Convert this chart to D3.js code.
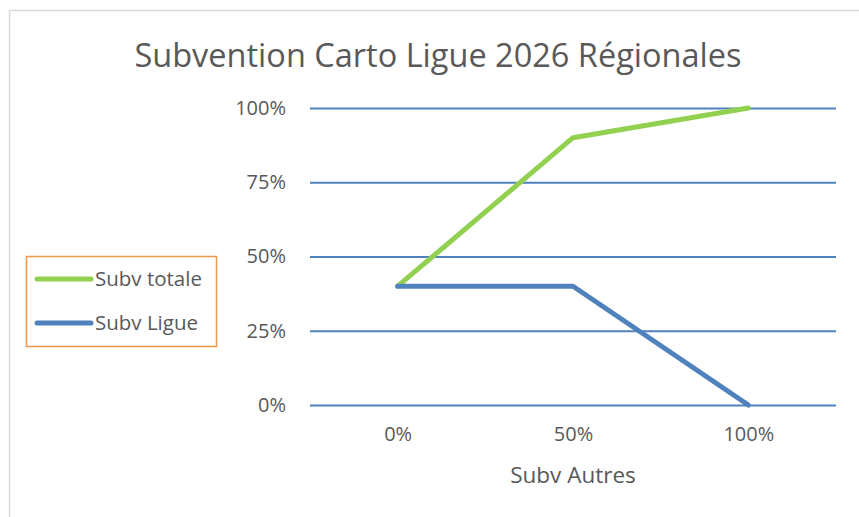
<!DOCTYPE html>
<html>
<head>
<meta charset="utf-8">
<script src="https://cdn.jsdelivr.net/npm/d3@7"></script>
<style>
  body { margin: 0; background: #fff; }
  svg { display: block; font-family: "Open Sans", "Noto Sans", sans-serif; }
</style>
</head>
<body>
<div id="chart"></div>
<script>
// data
const categories = ["0%", "50%", "100%"];
const subvTotale = [0.40, 0.90, 1.00];
const subvLigue = [0.40, 0.40, 0.00];
const yTicks = [0, 0.25, 0.5, 0.75, 1];

const series = [
  { name: "Subv totale", values: subvTotale, color: "#92D050" },
  { name: "Subv Ligue", values: subvLigue, color: "#4F81BD" }
];

const width = 859, height = 517;
const plot = { left: 310, right: 836, top: 108, bottom: 405 };

const svg = d3.select("#chart").append("svg")
  .attr("width", width)
  .attr("height", height);

// chart frame (only top and left edges show)
svg.append("path")
  .attr("d", `M9.5,${height} V10.5 H${width}`)
  .attr("fill", "none")
  .attr("stroke", "#d9d9d9")
  .attr("stroke-width", 1.5);

const x = d3.scalePoint()
  .domain(categories)
  .range([plot.left, plot.right])
  .padding(0.5);

const y = d3.scaleLinear()
  .domain([0, 1])
  .range([plot.bottom, plot.top]);

// title
svg.append("text")
  .attr("x", 438)
  .attr("y", 67)
  .attr("text-anchor", "middle")
  .attr("fill", "#595959")
  .attr("font-size", 32.5)
  .text("Subvention Carto Ligue 2026 Régionales");

// gridlines + y labels
const yAxis = svg.append("g")
  .attr("transform", `translate(${plot.left},0)`)
  .call(d3.axisLeft(y)
    .tickValues(yTicks)
    .tickFormat(d3.format(".0%"))
    .tickSize(-(plot.right - plot.left))
    .tickPadding(24));
yAxis.select(".domain").remove();
yAxis.selectAll(".tick line")
  .attr("stroke", "#4F81BD")
  .attr("stroke-width", 2);
yAxis.selectAll(".tick text")
  .attr("fill", "#595959")
  .attr("font-size", 20)
  .attr("font-family", "Open Sans, sans-serif");

// x labels
const xAxis = svg.append("g")
  .attr("transform", `translate(0,${plot.bottom})`)
  .call(d3.axisBottom(x).tickSize(0).tickPadding(22));
xAxis.select(".domain").remove();
xAxis.selectAll(".tick text")
  .attr("fill", "#595959")
  .attr("font-size", 20)
  .attr("font-family", "Open Sans, sans-serif");

// x axis title
svg.append("text")
  .attr("x", x("50%"))
  .attr("y", 483)
  .attr("text-anchor", "middle")
  .attr("fill", "#595959")
  .attr("font-size", 22.5)
  .text("Subv Autres");

// lines
const line = d3.line()
  .x((d, i) => x(categories[i]))
  .y(d => y(d));

svg.selectAll(".series")
  .data(series)
  .join("path")
  .attr("class", "series")
  .attr("d", d => line(d.values))
  .attr("fill", "none")
  .attr("stroke", d => d.color)
  .attr("stroke-width", 5)
  .attr("stroke-linecap", "round")
  .attr("stroke-linejoin", "round");

// legend
const legend = svg.append("g");
legend.append("rect")
  .attr("x", 26.5)
  .attr("y", 256.5)
  .attr("width", 190)
  .attr("height", 90)
  .attr("fill", "#fff")
  .attr("stroke", "#F79646")
  .attr("stroke-width", 1.5);

const item = legend.selectAll(".item")
  .data(series)
  .join("g")
  .attr("class", "item")
  .attr("transform", (d, i) => `translate(0,${279 + i * 44})`);
item.append("line")
  .attr("x1", 37).attr("x2", 91)
  .attr("stroke", d => d.color)
  .attr("stroke-width", 5)
  .attr("stroke-linecap", "round");
item.append("text")
  .attr("x", 95)
  .attr("y", 0)
  .attr("dy", "0.35em")
  .attr("fill", "#595959")
  .attr("font-size", 20.5)
  .text(d => d.name);
</script>
</body>
</html>
